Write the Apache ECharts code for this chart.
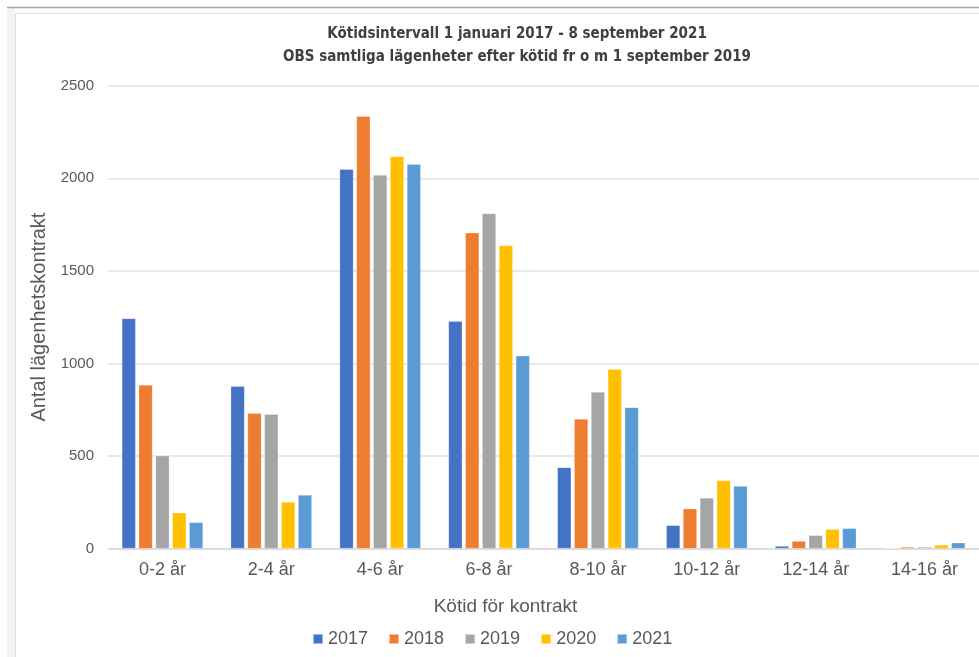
<!DOCTYPE html>
<html><head><meta charset="utf-8">
<script src="https://cdn.jsdelivr.net/npm/echarts@6/dist/echarts.min.js"></script>
<style>html,body{margin:0;padding:0;background:#fff}#c{width:979px;height:657px}</style>
</head><body><div id="c"></div>
<script>
const categories = ['0-2 år','2-4 år','4-6 år','6-8 år','8-10 år','10-12 år','12-14 år','14-16 år'];
const years = ['2017','2018','2019','2020','2021'];
const v2017 = [1243, 877, 2049, 1227, 438, 125, 13, 0];
const v2018 = [883, 730, 2335, 1705, 699, 215, 40, 8];
const v2019 = [501, 725, 2017, 1810, 845, 273, 71, 8];
const v2020 = [193, 251, 2118, 1637, 968, 368, 104, 19];
const v2021 = [141, 289, 2076, 1041, 762, 337, 109, 31];
const yTicks = {min: 0, max: 2500, interval: 500};
const colors = ['#4472C4','#ED7D31','#A5A5A5','#FFC000','#5B9BD5'];
const seriesValues = [v2017, v2018, v2019, v2020, v2021];

const chart = echarts.init(document.getElementById('c'), null, {renderer: 'canvas'});
chart.setOption({
  animation: false,
  color: colors,
  graphic: [
    {type: 'rect', shape: {x: 7, y: 8, width: 8, height: 660}, style: {fill: '#f3f3f3'}, silent: true},
    {type: 'line', shape: {x1: 7, y1: 7.5, x2: 979, y2: 7.5}, style: {stroke: '#a6a6a6', lineWidth: 1.5}, silent: true},
    {type: 'line', shape: {x1: 15.5, y1: 13.5, x2: 15.5, y2: 657}, style: {stroke: '#e2e2e2', lineWidth: 1}, silent: true},
    {type: 'line', shape: {x1: 15.5, y1: 13.5, x2: 979, y2: 13.5}, style: {stroke: '#e2e2e2', lineWidth: 1}, silent: true}
  ],
  title: {
    text: 'Kötidsintervall 1 januari 2017 - 8 september 2021\nOBS samtliga lägenheter efter kötid fr o m 1 september 2019',
    left: 512, top: 18, textAlign: 'center',
    textStyle: {fontFamily: 'DejaVu Sans Condensed', fontWeight: 'bold', fontSize: 15, color: '#404040', lineHeight: 23}
  },
  legend: {
    data: years, left: 312, top: 630, padding: 0,
    itemWidth: 10, itemHeight: 10, itemGap: 20, icon: 'rect',
    textStyle: {fontFamily: 'Liberation Sans', fontSize: 18, color: '#595959'}
  },
  grid: {left: 108, right: -13, top: 85.7, bottom: 108.5, containLabel: false},
  xAxis: {
    type: 'category', data: categories,
    axisLine: {lineStyle: {color: '#d9d9d9', width: 1.5}},
    axisTick: {show: false},
    axisLabel: {fontFamily: 'Liberation Sans', fontSize: 18, color: '#595959', margin: 13},
    name: 'Kötid för kontrakt', nameLocation: 'middle', nameGap: 49,
    nameTextStyle: {fontFamily: 'Liberation Sans', fontSize: 19, color: '#595959', padding: [0, 76, 0, 0]}
  },
  yAxis: {
    type: 'value', min: yTicks.min, max: yTicks.max, interval: yTicks.interval,
    axisLine: {show: false}, axisTick: {show: false},
    axisLabel: {fontFamily: 'Liberation Sans', fontSize: 15, color: '#595959', margin: 14,
      formatter: v => String(v)},
    splitLine: {lineStyle: {color: '#e0e0e0', width: 1.5}},
    name: 'Antal lägenhetskontrakt', nameLocation: 'middle', nameGap: 57,
    nameTextStyle: {fontFamily: 'Liberation Sans', fontSize: 20, color: '#595959'}
  },
  series: years.map((y, i) => ({
    name: y, type: 'bar', data: seriesValues[i],
    barWidth: 13.8, barGap: '22%',
    itemStyle: {color: colors[i], borderColor: 'rgba(255,255,255,0.5)', borderWidth: 0.5}
  }))
});
</script></body></html>
